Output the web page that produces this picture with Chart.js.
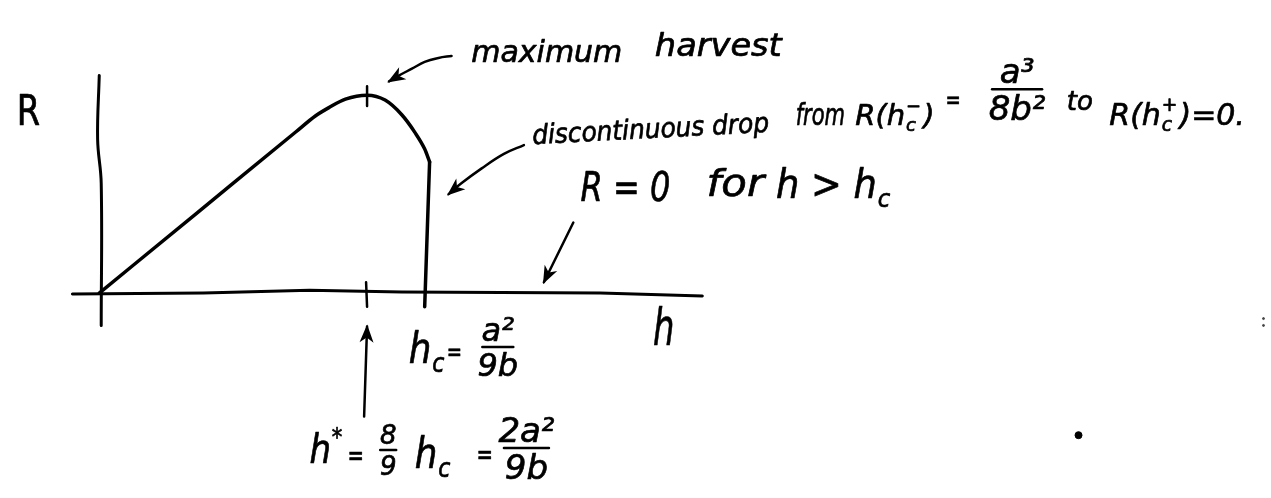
<!DOCTYPE html>
<html>
<head>
<meta charset="utf-8">
<script src="https://cdn.jsdelivr.net/npm/chart.js@4.4.1/dist/chart.umd.min.js"></script>
<style>
  html, body { margin: 0; padding: 0; background: #fff; }
  #wrap { width: 1271px; height: 498px; }
</style>
</head>
<body>
<div id="wrap"><canvas id="harvestChart" width="1271" height="498"></canvas></div>
<script>
/**
 * Boceto de la cosecha R(h): crece hasta el máximo en h*, cae de golpe en h_c
 * y vale cero para h > h_c. Unidades: h_c = 1.
 */

// Curva R(h) hasta h_c
const curveH = [0, 0.300, 0.600, 0.661, 0.703, 0.752, 0.818, 0.873, 0.924, 0.964, 0.994, 1.009];
const curveR = [0, 0.411, 0.822, 0.905, 0.948, 0.990, 1.010, 0.985, 0.910, 0.820, 0.735, 0.670];

// Caída vertical en h_c
const dropH = [1.009, 0.994];
const dropR = [0.670, -0.070];

// Ejes dibujados a mano
const axisHH = [-0.082, 0.318, 0.642, 0.924, 1.530, 1.842];
const axisHR = [-0.005, 0.000, 0.015, 0.005, 0.000, -0.015];
const axisRH = [0.000, -0.005, 0.006, 0.006];
const axisRR = [1.110, 0.785, 0.560, -0.165];

// Marcas en h* (eje y máximo)
const tickStarH = [0.815, 0.818];
const tickStarR = [0.055, -0.070];
const tickPeakH = [0.818, 0.818];
const tickPeakR = [1.055, 0.955];

// Flechas de las anotaciones
const arrowMaxH = [1.076, 1.036, 0.994, 0.955, 0.915, 0.885];
const arrowMaxR = [1.210, 1.200, 1.180, 1.145, 1.110, 1.080];
const arrowDropH = [1.297, 1.236, 1.167, 1.106, 1.067];
const arrowDropR = [0.755, 0.710, 0.635, 0.560, 0.505];
const arrowZeroH = [1.448, 1.358];
const arrowZeroR = [0.360, 0.055];
const arrowStarH = [0.809, 0.818];
const arrowStarR = [-0.630, -0.170];

// Puntos sueltos
const dotH = [2.991];
const dotR = [-0.725];
const specksH = [3.556, 3.556];
const specksR = [-0.130, -0.165];

const FONT = "'DejaVu Sans', sans-serif";
const INK = '#000';

// Textos: ancla (h, R) en la línea base, con subíndices y superíndices
const LABELS = [
    { h: -0.252, r: 0.860, size: 42, italic: false, sx: 0.8, parts: ['R'] },
    { h: 1.136, r: 1.180, size: 30, parts: ['maximum'] },
    { h: 1.697, r: 1.210, size: 32, sx: 1.05, parts: ['harvest'] },
    { h: 1.324, r: 0.760, size: 27, sx: 0.92, rot: -3, parts: ['discontinuous drop'] },
    { h: 2.127, r: 0.860, size: 30, sx: 0.7, parts: ['from'] },
    { h: 2.309, r: 0.860, size: 29, parts: ['R(h', { sub: 'c', sup: '−' }, ')'] },
    { h: 2.585, r: 0.940, size: 26, sx: 0.7, parts: ['='] },
    { h: 2.955, r: 0.935, size: 26, parts: ['to'] },
    { h: 3.085, r: 0.860, size: 30, parts: ['R(h', { sub: 'c', sup: '+' }, ')=0.'] },
    { h: 1.470, r: 0.470, size: 40, sx: 0.8, parts: ['R = 0'] },
    { h: 1.855, r: 0.495, size: 38, sx: 1.1, parts: ['for'] },
    { h: 2.067, r: 0.485, size: 40, sx: 0.92, parts: ['h > h', { sub: 'c' }] },
    { h: 1.691, r: -0.265, size: 52, sx: 0.65, parts: ['h'] },
    { h: 0.945, r: -0.355, size: 42, sx: 0.85, parts: ['h', { sub: 'c' }] },
    { h: 1.061, r: -0.345, size: 26, sx: 0.7, parts: ['='] },
    { h: 0.642, r: -0.865, size: 40, sx: 0.85, parts: ['h', { sup: '*' }] },
    { h: 0.758, r: -0.875, size: 28, sx: 0.7, parts: ['='] },
    { h: 0.964, r: -0.890, size: 42, sx: 0.85, parts: ['h', { sub: 'c' }] },
    { h: 1.152, r: -0.870, size: 28, sx: 0.7, parts: ['='] }
];

// Fracciones: ancla (h, R) en el extremo izquierdo de la raya
const FRACTIONS = [
    { h: 2.727, r: 1.040, size: 34, width: 50, num: 'a³', den: '8b²' },
    { h: 1.170, r: -0.275, size: 32, width: 31, num: 'a²', den: '9b' },
    { h: 0.858, r: -0.800, size: 26, width: 16, num: '8', den: '9' },
    { h: 1.236, r: -0.790, size: 34, width: 45, num: '2a²', den: '9b' }
];

function toPoints(hs, rs) {
    return hs.map((h, i) => ({ x: h, y: rs[i] }));
}

function stroke(hs, rs, extra) {
    return Object.assign({
        data: toPoints(hs, rs),
        showLine: true,
        borderColor: INK,
        borderWidth: 3,
        borderCapStyle: 'round',
        borderJoinStyle: 'round',
        pointRadius: 0,
        fill: false,
        tension: 0
    }, extra || {});
}

function fontOf(size, italic) {
    return `${italic ? 'italic ' : ''}${size}px ${FONT}`;
}

// Texto relleno con un contorno fino para engrosar el trazo
function inkText(ctx, text, x, y) {
    ctx.fillText(text, x, y);
    ctx.strokeText(text, x, y);
}

/**
 * Dibuja una fila de texto con subíndices y superíndices desde (0, 0).
 */
function drawParts(ctx, parts, size, italic) {
    let cx = 0;
    for (const p of parts) {
        if (typeof p === 'string') {
            ctx.font = fontOf(size, italic);
            inkText(ctx, p, cx, 0);
            cx += ctx.measureText(p).width;
        } else {
            ctx.font = fontOf(size * 0.62, italic);
            let w = 0;
            if (p.sub) {
                inkText(ctx, p.sub, cx + 1, size * 0.22);
                w = ctx.measureText(p.sub).width;
            }
            if (p.sup) {
                inkText(ctx, p.sup, cx + 1, -size * 0.45);
                w = Math.max(w, ctx.measureText(p.sup).width);
            }
            cx += w + 3;
        }
    }
}

// Puntas de flecha al final de los trazos marcados con arrow: true
const arrowHeads = {
    id: 'arrowHeads',
    afterDatasetsDraw(chart) {
        const ctx = chart.ctx;
        chart.data.datasets.forEach((ds, i) => {
            if (!ds.arrow) return;
            const pts = chart.getDatasetMeta(i).data;
            const a = pts[pts.length - 2];
            const b = pts[pts.length - 1];
            const ang = Math.atan2(b.y - a.y, b.x - a.x);
            const len = 16, half = 7;
            ctx.save();
            ctx.fillStyle = INK;
            ctx.translate(b.x, b.y);
            ctx.rotate(ang);
            ctx.beginPath();
            ctx.moveTo(2, 0);
            ctx.lineTo(-len, -half);
            ctx.lineTo(-len + 5, 0);
            ctx.lineTo(-len, half);
            ctx.closePath();
            ctx.fill();
            ctx.restore();
        });
    }
};

// Rótulos y fórmulas colocados con las escalas del gráfico
const sketchLabels = {
    id: 'sketchLabels',
    afterDraw(chart) {
        const ctx = chart.ctx;
        const xs = chart.scales.x, ys = chart.scales.y;
        ctx.save();
        ctx.fillStyle = INK;
        ctx.strokeStyle = INK;
        ctx.lineJoin = 'round';
        ctx.textBaseline = 'alphabetic';

        LABELS.forEach(l => {
            ctx.save();
            ctx.translate(xs.getPixelForValue(l.h), ys.getPixelForValue(l.r));
            if (l.rot) ctx.rotate(l.rot * Math.PI / 180);
            ctx.scale(l.sx || 1, 1);
            ctx.lineWidth = 0.7;
            drawParts(ctx, l.parts, l.size, l.italic !== false);
            ctx.restore();
        });

        FRACTIONS.forEach(f => {
            const x = xs.getPixelForValue(f.h);
            const y = ys.getPixelForValue(f.r);
            ctx.font = fontOf(f.size, true);
            ctx.lineWidth = 2.5;
            ctx.lineCap = 'round';
            ctx.beginPath();
            ctx.moveTo(x, y);
            ctx.lineTo(x + f.width, y);
            ctx.stroke();
            ctx.lineWidth = 0.7;
            const wn = ctx.measureText(f.num).width;
            const wd = ctx.measureText(f.den).width;
            inkText(ctx, f.num, x + (f.width - wn) / 2, y - 6);
            inkText(ctx, f.den, x + (f.width - wd) / 2, y + 6 + f.size * 0.73);
        });
        ctx.restore();
    }
};

function initChart() {
    const ctx = document.getElementById('harvestChart').getContext('2d');
    new Chart(ctx, {
        type: 'scatter',
        data: {
            datasets: [
                stroke(axisHH, axisHR),
                stroke(axisRH, axisRR, { tension: 0.4 }),
                stroke(curveH, curveR, { cubicInterpolationMode: 'monotone', borderWidth: 3.5 }),
                stroke(dropH, dropR, { borderWidth: 3.5 }),
                stroke(tickStarH, tickStarR, { borderWidth: 2.5 }),
                stroke(tickPeakH, tickPeakR, { borderWidth: 2.5 }),
                stroke(arrowMaxH, arrowMaxR, { tension: 0.4, borderWidth: 2.5, arrow: true }),
                stroke(arrowDropH, arrowDropR, { tension: 0.4, borderWidth: 2.5, arrow: true }),
                stroke(arrowZeroH, arrowZeroR, { borderWidth: 2.5, arrow: true }),
                stroke(arrowStarH, arrowStarR, { borderWidth: 2.5, arrow: true }),
                {
                    data: toPoints(dotH, dotR),
                    showLine: false,
                    pointRadius: 3.5,
                    backgroundColor: INK,
                    borderColor: INK
                },
                {
                    data: toPoints(specksH, specksR),
                    showLine: false,
                    pointRadius: 1,
                    backgroundColor: '#444',
                    borderColor: '#444'
                }
            ]
        },
        options: {
            responsive: false,
            animation: false,
            layout: { padding: 0 },
            plugins: {
                legend: { display: false },
                tooltip: { enabled: false }
            },
            scales: {
                x: { type: 'linear', display: false, min: -95 / 330, max: 1176 / 330 },
                y: { type: 'linear', display: false, min: -204 / 200, max: 294 / 200 }
            }
        },
        plugins: [arrowHeads, sketchLabels]
    });
}

document.addEventListener('DOMContentLoaded', initChart);
</script>
</body>
</html>
